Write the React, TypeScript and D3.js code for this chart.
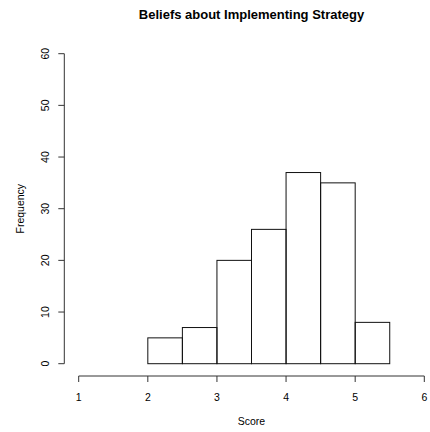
import React from "react";
import * as d3 from "d3";

const binStarts = [2, 2.5, 3, 3.5, 4, 4.5, 5];
const binWidth = 0.5;
const counts = [5, 7, 20, 26, 37, 35, 8];
const xTicks = [1, 2, 3, 4, 5, 6];
const yTicks = [0, 10, 20, 30, 40, 50, 60];
const title = "Beliefs about Implementing Strategy";
const xLabel = "Score";
const yLabel = "Frequency";

export default function App() {
  const W = 430, H = 432;
  const x = d3.scaleLinear().domain([1, 6]).range([78.7, 424.3]);
  const y = d3.scaleLinear().domain([0, 60]).range([363.7, 53.7]);
  const font = "'Liberation Sans', Arial, Helvetica, sans-serif";
  const axisY = 376;
  const axisX = 64.3;
  const fs = 10.5;
  return (
    <svg width={W} height={H} style={{ position: "absolute", left: 0, top: 0, background: "#fff" }} fontFamily={font}>
      <text x={251.5} y={18.5} textAnchor="middle" fontSize={13} fontWeight="bold" fill="#000">{title}</text>
      {binStarts.map((b, i) => (
        <rect key={i} x={x(b)} y={y(counts[i])} width={x(b + binWidth) - x(b)} height={y(0) - y(counts[i])}
          fill="none" stroke="#111" strokeWidth={1} />
      ))}
      <g stroke="#333" strokeWidth={1} fill="none">
        <line x1={x(1)} x2={x(6)} y1={axisY} y2={axisY} />
        {xTicks.map(t => <line key={t} x1={x(t)} x2={x(t)} y1={axisY} y2={axisY + 6} />)}
        <line x1={axisX} x2={axisX} y1={y(0)} y2={y(60)} />
        {yTicks.map(t => <line key={t} x1={axisX - 6} x2={axisX} y1={y(t)} y2={y(t)} />)}
      </g>
      {xTicks.map(t => (
        <text key={t} x={x(t)} y={401} textAnchor="middle" fontSize={fs} fill="#000">{t}</text>
      ))}
      {yTicks.map(t => (
        <text key={t} transform={`translate(49,${y(t)}) rotate(-90)`} textAnchor="middle" fontSize={fs} fill="#000">{t}</text>
      ))}
      <text x={251.5} y={425} textAnchor="middle" fontSize={fs} fill="#000">{xLabel}</text>
      <text transform={`translate(24,${(y(0) + y(60)) / 2}) rotate(-90)`} textAnchor="middle" fontSize={fs} fill="#000">{yLabel}</text>
    </svg>
  );
}
